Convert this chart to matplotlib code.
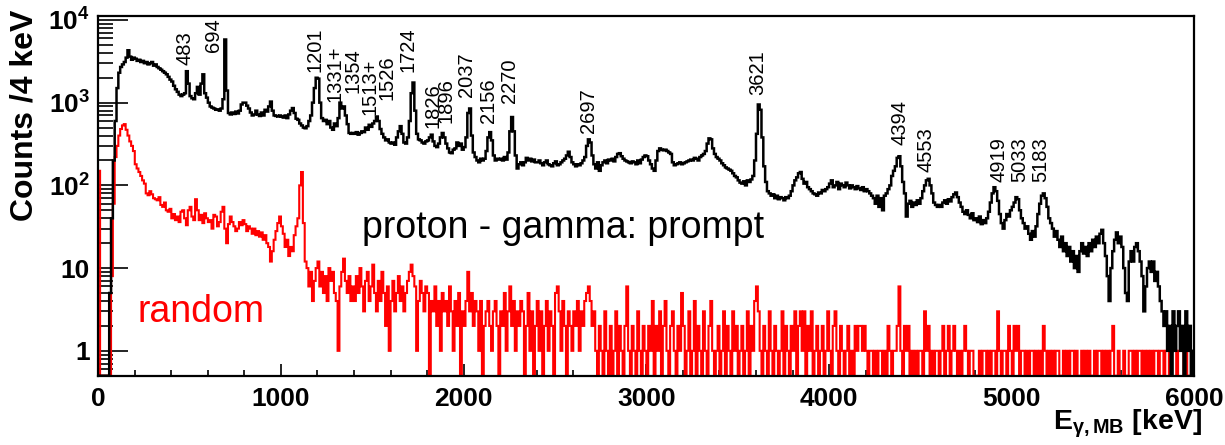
import numpy as np
import matplotlib
matplotlib.use("Agg")
import matplotlib.pyplot as plt
from matplotlib.ticker import LogLocator, NullFormatter, MultipleLocator

plt.rcParams['font.family'] = ['Liberation Sans', 'DejaVu Sans']
plt.rcParams['mathtext.fontset'] = 'custom'
plt.rcParams['mathtext.rm'] = 'Liberation Sans'
plt.rcParams['mathtext.bf'] = 'Liberation Sans:bold'
plt.rcParams['mathtext.it'] = 'Liberation Sans:italic'

# ---------------- data (counts per bin, bins of 10 keV from 0 to 6000 keV) ----------------
bin_width_kev = 10

prompt_counts = [
    0, 0, 0, 0, 0, 0, 5, 40, 200, 600, 1500, 2300, 2700, 2900, 3100, 3500, 4300, 3600, 3300, 3500,
    3400, 3200, 3300, 3100, 3200, 3000, 3100, 2900, 3000, 3100, 2800, 2900, 2700, 2600, 2500, 2400, 2300, 2200, 2050, 1900,
    1800, 1600, 1450, 1350, 1250, 1200, 1250, 1300, 2400, 1700, 1200, 1130, 1100, 1300, 1550, 1250, 1700, 2200, 1300, 1150,
    1000, 900, 870, 850, 820, 830, 800, 850, 1100, 5800, 1400, 750, 720, 760, 730, 780, 740, 800, 950, 1000,
    1000, 920, 850, 760, 700, 720, 800, 720, 690, 760, 700, 820, 780, 900, 1030, 800, 700, 690, 680, 700,
    680, 660, 700, 650, 720, 800, 860, 750, 640, 620, 560, 530, 500, 490, 520, 600, 700, 1000, 1500, 2000,
    1950, 1000, 650, 600, 620, 550, 600, 500, 470, 560, 520, 650, 1000, 850, 900, 700, 550, 430, 420, 430,
    420, 440, 410, 430, 450, 440, 500, 470, 540, 510, 560, 600, 680, 600, 480, 420, 380, 350, 360, 330,
    320, 330, 310, 380, 450, 520, 420, 330, 320, 380, 600, 1300, 1750, 800, 420, 360, 350, 330, 320, 340,
    350, 380, 410, 340, 300, 290, 320, 380, 430, 380, 320, 280, 250, 245, 270, 280, 330, 300, 320, 270,
    290, 380, 750, 850, 400, 250, 220, 200, 190, 210, 200, 210, 260, 380, 440, 350, 230, 200, 210, 205,
    210, 200, 220, 205, 250, 450, 670, 450, 230, 160, 180, 190, 175, 190, 215, 200, 210, 195, 205, 190,
    190, 200, 185, 175, 190, 200, 180, 175, 170, 185, 195, 175, 180, 190, 200, 210, 230, 255, 220, 190,
    180, 170, 180, 175, 185, 200, 220, 300, 360, 330, 230, 180, 160, 190, 150, 175, 190, 200, 185, 205,
    200, 210, 195, 220, 240, 245, 225, 210, 200, 195, 190, 185, 195, 190, 180, 200, 185, 205, 220, 230,
    225, 200, 180, 160, 150, 200, 260, 280, 270, 265, 270, 260, 250, 240, 190, 175, 180, 185, 190, 180,
    185, 190, 195, 200, 205, 200, 215, 210, 200, 220, 230, 240, 260, 320, 370, 360, 280, 240, 220, 210,
    200, 185, 175, 165, 160, 155, 150, 140, 130, 125, 115, 108, 105, 112, 100, 115, 110, 118, 130, 200,
    420, 950, 820, 380, 170, 110, 85, 80, 75, 78, 70, 75, 68, 72, 70, 66, 72, 70, 75, 85,
    100, 115, 125, 140, 145, 120, 105, 110, 95, 90, 85, 80, 78, 75, 82, 80, 88, 85, 90, 95,
    105, 115, 95, 100, 110, 90, 105, 100, 95, 108, 100, 92, 100, 95, 90, 98, 92, 88, 95, 85,
    90, 85, 80, 75, 70, 60, 75, 55, 70, 50, 75, 80, 90, 100, 130, 150, 170, 215, 225, 170,
    110, 80, 42, 60, 65, 55, 62, 58, 66, 60, 70, 85, 100, 115, 120, 100, 80, 62, 58, 55,
    58, 55, 62, 66, 60, 68, 64, 72, 78, 82, 72, 62, 55, 48, 45, 50, 44, 40, 46, 38,
    40, 36, 42, 34, 38, 35, 40, 48, 62, 80, 95, 85, 65, 45, 35, 30, 38, 45, 42, 50,
    55, 62, 72, 68, 50, 40, 35, 30, 32, 26, 22, 28, 24, 32, 45, 60, 75, 80, 70, 55,
    40, 35, 30, 24, 28, 22, 18, 24, 16, 20, 14, 18, 12, 16, 10, 14, 9, 16, 20, 15,
    18, 14, 20, 16, 22, 18, 24, 20, 26, 29, 20, 14, 8, 4, 10, 16, 22, 27, 20, 24,
    18, 10, 5, 4, 12, 16, 12, 18, 20, 16, 12, 8, 3, 6, 10, 12, 9, 12, 7, 9,
    6, 4, 3, 2, 3, 1, 2, 0, 3, 1, 2, 3, 1, 2, 0, 3, 1, 2, 0, 1,
]

random_counts = [
    150, 0, 0, 0, 0, 0, 0, 8, 60, 220, 300, 400, 480, 530, 550, 470, 400, 340, 300, 260,
    180, 160, 145, 130, 115, 105, 80, 76, 85, 78, 70, 68, 66, 72, 58, 55, 62, 50, 48, 52,
    40, 45, 38, 42, 36, 48, 50, 40, 33, 50, 55, 42, 38, 68, 50, 38, 44, 35, 46, 40,
    36, 38, 30, 44, 42, 32, 36, 48, 55, 30, 20, 34, 42, 36, 32, 28, 30, 36, 33, 38,
    34, 28, 32, 30, 26, 30, 25, 28, 24, 27, 22, 25, 20, 18, 12, 16, 22, 28, 35, 42,
    32, 26, 18, 22, 14, 18, 16, 25, 32, 40, 100, 145, 35, 12, 10, 6, 9, 4, 7, 10,
    12, 6, 9, 5, 8, 4, 10, 7, 9, 5, 4, 1, 6, 9, 13, 7, 5, 8, 4, 6,
    4, 8, 5, 10, 6, 3, 7, 9, 4, 6, 11, 5, 3, 7, 4, 9, 5, 2, 6, 1,
    4, 7, 3, 5, 8, 4, 6, 3, 5, 7, 9, 11, 8, 6, 1, 4, 7, 5, 3, 6,
    5, 0, 4, 3, 6, 2, 4, 1, 5, 3, 4, 2, 6, 3, 1, 4, 2, 5, 0, 3,
    2, 4, 9, 3, 5, 2, 4, 3, 1, 4, 0, 2, 3, 4, 2, 1, 3, 4, 2, 0,
    3, 2, 5, 1, 3, 6, 2, 4, 1, 3, 2, 4, 3, 0, 2, 5, 1, 3, 0, 2,
    4, 1, 3, 0, 2, 4, 1, 3, 2, 0, 5, 6, 3, 1, 4, 2, 0, 3, 2, 1,
    3, 2, 4, 1, 3, 2, 4, 5, 6, 4, 2, 3, 1, 0, 2, 1, 0, 3, 1, 0,
    2, 0, 1, 3, 0, 2, 1, 0, 2, 6, 1, 0, 2, 1, 0, 3, 1, 0, 2, 1,
    0, 2, 1, 4, 0, 2, 1, 3, 0, 2, 4, 1, 0, 2, 3, 1, 0, 2, 1, 5,
    2, 0, 1, 3, 0, 1, 4, 0, 2, 1, 0, 3, 1, 0, 2, 4, 1, 0, 1, 2,
    0, 1, 3, 0, 2, 1, 0, 3, 1, 2, 0, 1, 2, 0, 1, 3, 0, 2, 1, 4,
    6, 3, 1, 0, 2, 1, 0, 3, 1, 0, 2, 1, 0, 1, 3, 0, 2, 1, 0, 2,
    1, 3, 0, 2, 3, 1, 3, 0, 2, 1, 3, 0, 1, 2, 0, 1, 2, 0, 1, 3,
    1, 0, 2, 3, 1, 0, 2, 1, 0, 1, 2, 0, 1, 0, 2, 1, 2, 2, 1, 2,
    1, 0, 1, 1, 0, 1, 0, 1, 1, 0, 1, 0, 2, 1, 0, 1, 1, 2, 6, 1,
    0, 2, 1, 2, 0, 1, 0, 1, 0, 1, 1, 0, 3, 1, 2, 0, 1, 0, 1, 1,
    0, 1, 2, 0, 1, 2, 0, 1, 2, 1, 0, 1, 0, 1, 2, 1, 0, 1, 1, 0,
    0, 0, 1, 0, 1, 1, 0, 1, 0, 1, 1, 0, 3, 1, 0, 1, 1, 0, 2, 1,
    0, 2, 1, 2, 0, 1, 1, 0, 1, 0, 1, 1, 0, 1, 0, 1, 0, 2, 1, 0,
    1, 0, 1, 0, 1, 1, 0, 0, 1, 0, 1, 0, 1, 1, 0, 1, 0, 0, 1, 0,
    1, 0, 1, 0, 0, 1, 0, 1, 1, 0, 1, 0, 1, 0, 1, 2, 0, 0, 1, 0,
    0, 1, 0, 0, 1, 1, 0, 1, 0, 1, 1, 0, 1, 0, 1, 0, 1, 0, 1, 1,
    0, 1, 1, 0, 1, 1, 0, 1, 1, 1, 0, 1, 1, 1, 0, 1, 0, 0, 0, 0,
]

peak_labels = ['483', '694', '1201', '1331+', '1354', '1513+', '1526', '1724', '1826', '1896',
               '2037', '2156', '2270', '2697', '3621', '4394', '4553', '4919', '5033', '5183']
peak_label_x = [474, 629, 1186, 1295, 1396, 1487, 1578, 1695, 1833, 1906,
                2016, 2134, 2253, 2681, 3612, 4387, 4533, 4930, 5043, 5157]
peak_label_y = [2850, 4090, 2340, 1017, 1306, 708, 1074, 2340, 493, 567,
                1170, 567, 989, 429, 1236, 307, 145, 110, 110, 110]

y_tick_values = [1, 10, 100, 1000, 10000]
y_tick_labels = ['1', '10', r'$\mathbf{10^{2}}$', r'$\mathbf{10^{3}}$', r'$\mathbf{10^{4}}$']

# ---------------- figure ----------------
y_min, y_max = 0.5, 1.115e4
fig = plt.figure(figsize=(12.25, 4.45), dpi=100)
ax = fig.add_axes([0.0802, 0.1557, 0.8949, 0.8083])
ax.set_yscale('log')

edges = np.arange(len(prompt_counts) + 1) * bin_width_kev
rnd = np.asarray(random_counts, dtype=float)
rnd[rnd <= 0] = y_min
prm = np.asarray(prompt_counts, dtype=float)
prm[prm <= 0] = y_min

ax.stairs(rnd, edges, baseline=None, color='#ff0000', lw=1.5, zorder=2)
ax.stairs(prm, edges, baseline=None, color='black', lw=1.8, zorder=3)

ax.set_xlim(0, 6000)
ax.set_ylim(y_min, y_max)

for lab, x, y in zip(peak_labels, peak_label_x, peak_label_y):
    ax.text(x, y, lab, rotation=90, ha='center', va='bottom', fontsize=14.5, color='black')

ax.text(0.2406, 0.383, 'proton - gamma: prompt', transform=ax.transAxes,
        fontsize=27, ha='left', va='baseline', color='black')
ax.text(0.0362, 0.150, 'random', transform=ax.transAxes,
        fontsize=27, ha='left', va='baseline', color='#ff0000')

# ticks
ax.xaxis.set_major_locator(MultipleLocator(1000))
ax.xaxis.set_minor_locator(MultipleLocator(200))
ax.set_yticks(y_tick_values)
ax.set_yticklabels(y_tick_labels)
ax.yaxis.set_minor_locator(LogLocator(base=10, subs=np.arange(2, 10)))
ax.yaxis.set_minor_formatter(NullFormatter())

ax.tick_params(axis='both', which='both', direction='in', top=False, right=False, width=1.2)
ax.tick_params(axis='y', which='major', length=21.6, pad=6, labelsize=19)
ax.tick_params(axis='y', which='minor', length=10.8)
ax.tick_params(axis='x', which='major', length=8.6, pad=8, labelsize=19)
ax.tick_params(axis='x', which='minor', length=4.3)
for lbl in ax.get_xticklabels() + ax.get_yticklabels():
    lbl.set_fontweight('bold')

for s in ax.spines.values():
    s.set_linewidth(1.6)

fig.text(25 / 1225, 1 - 10 / 445, 'Counts /4 keV', rotation=90, fontsize=23,
         fontweight='bold', ha='center', va='top')
fig.text(1202 / 1225, 1 - 430 / 445, r'$\mathbf{E_{γ,MB}}$ [keV]', fontsize=20.5,
         fontweight='bold', ha='right', va='baseline')

fig.savefig('out.png', dpi=100)
